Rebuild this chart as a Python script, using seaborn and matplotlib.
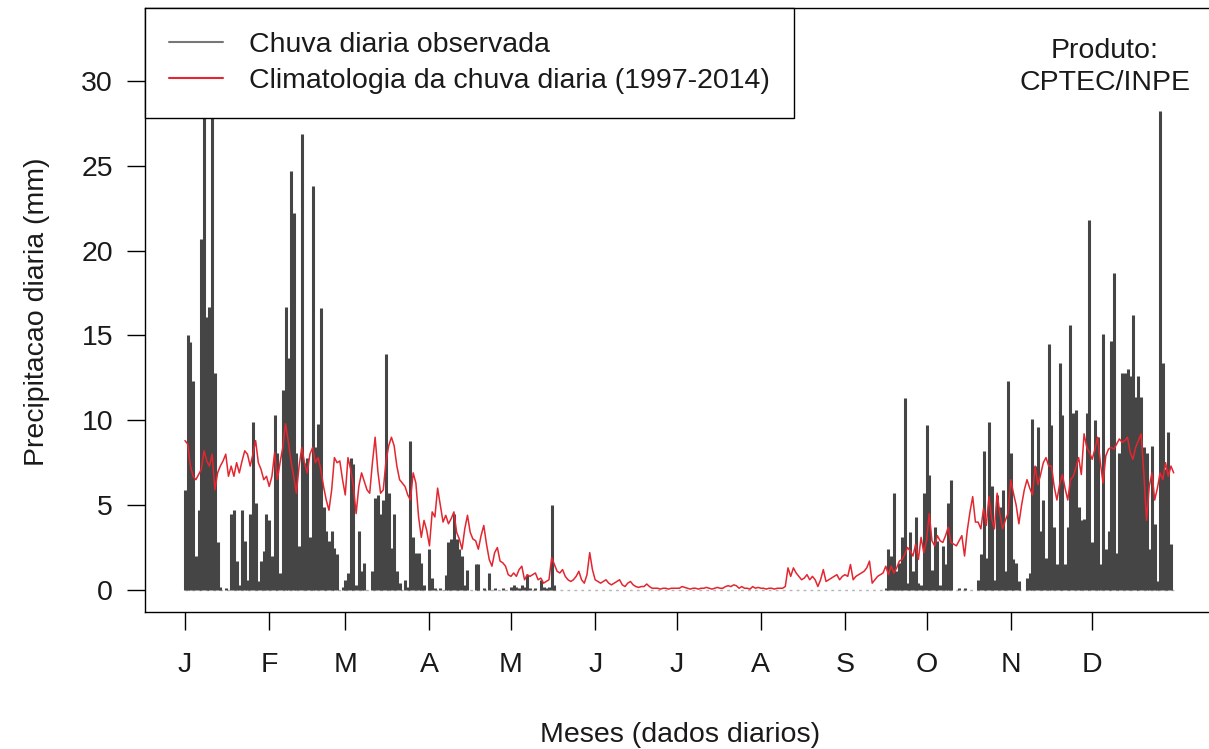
import numpy as np
import pandas as pd
import seaborn as sns
import matplotlib
matplotlib.use("Agg")
import matplotlib.pyplot as plt
from matplotlib.lines import Line2D

# month tick positions (day of year) and labels
month_days = [1, 32, 60, 91, 121, 152, 182, 213, 244, 274, 305, 335]
month_labels = ["J", "F", "M", "A", "M", "J", "J", "A", "S", "O", "N", "D"]

# observed daily rain (mm), one list per month
chuva_jan = [5.9, 15.0, 14.6, 12.3, 2.0, 4.7, 20.7, 34.0, 16.1, 16.7, 32.0, 12.8, 2.8, 0.2, 0.0, 0.1,
             0.0, 4.5, 4.7, 1.7, 0.3, 4.7, 2.9, 0.6, 4.5, 9.9, 5.1, 0.5, 1.7, 2.3, 4.5]
chuva_fev = [4.1, 2.0, 10.3, 8.1, 1.0, 11.8, 16.7, 13.7, 24.7, 22.2, 8.1, 2.6, 26.9, 7.5, 7.8, 3.1,
             23.8, 8.4, 9.8, 16.6, 4.9, 3.5, 2.9, 3.5, 2.5, 2.1, 0.0, 0.2]
chuva_mar = [0.6, 1.0, 7.8, 7.4, 0.3, 3.5, 1.1, 1.6, 0.0, 0.0, 1.1, 5.4, 5.6, 4.5, 5.3, 13.9,
             5.7, 2.5, 4.5, 1.1, 0.4, 0.0, 0.6, 0.2, 8.8, 3.1, 2.2, 2.2, 1.6, 0.3, 0.0]
chuva_abr = [2.4, 0.7, 0.1, 0.0, 0.1, 0.0, 0.9, 2.8, 3.0, 4.5, 3.0, 2.4, 2.0, 0.3, 1.2, 0.0,
             0.0, 1.5, 1.5, 0.0, 0.1, 0.0, 1.0, 0.0, 0.1, 0.0, 0.0, 0.1, 0.0, 0.0]
chuva_mai = [0.2, 0.3, 0.2, 0.1, 0.3, 0.2, 0.9, 0.1, 0.0, 0.1, 0.0, 0.6, 0.2, 0.1, 0.2, 5.0,
             0.3, 0, 0, 0, 0, 0, 0, 0, 0, 0, 0, 0, 0, 0, 0]
chuva_jun = [0.0] * 30
chuva_jul = [0.0] * 31
chuva_ago = [0.0] * 31
chuva_set = [0, 0, 0, 0, 0, 0, 0, 0, 0, 0, 0, 0, 0, 0, 0, 0.1, 2.4, 2.0, 5.7, 1.1, 1.6, 3.1,
             11.3, 0.4, 3.4, 1.1, 4.3, 0.4, 0.3, 5.7]
chuva_out = [9.7, 6.8, 1.2, 3.7, 2.9, 0.3, 2.6, 1.5, 5.1, 6.5, 0, 0, 0.1, 0, 0.1, 0, 0, 0, 0,
             0.6, 2.1, 8.2, 1.9, 9.9, 6.1, 0.6, 5.6, 4.9, 5.9, 1.1, 12.3]
chuva_nov = [8.1, 1.8, 1.6, 0.5, 0, 0, 0.7, 1.0, 10.1, 7.3, 9.6, 3.5, 5.3, 1.9, 14.5, 9.7, 3.7,
             1.5, 13.4, 10.3, 1.5, 3.7, 15.6, 10.4, 10.6, 4.9, 4.1, 4.2, 10.4, 21.8]
chuva_dez = [2.8, 10.0, 9.0, 1.5, 15.1, 2.4, 3.5, 14.7, 18.7, 2.2, 8.1, 12.8, 12.8, 13.0, 12.6,
             16.2, 11.4, 12.6, 11.4, 8.4, 8.1, 2.4, 8.5, 3.9, 0.5, 28.2, 13.4, 7.1, 9.3, 2.7, 0.0]

# daily rain climatology 1997-2014 (mm)
clim_jan = [8.8, 8.6, 7.3, 6.7, 6.5, 6.8, 7.1, 8.2, 7.6, 7.3, 8.0, 5.9, 6.9, 7.3, 7.6, 8.0,
            6.7, 7.3, 6.7, 7.5, 6.9, 7.6, 8.2, 8.0, 7.3, 8.0, 8.8, 7.5, 7.1, 6.5, 6.7]
clim_fev = [6.1, 6.7, 8.1, 6.5, 7.5, 8.4, 9.8, 8.8, 7.6, 6.7, 5.7, 7.3, 8.4, 7.5, 6.9, 8.0,
            8.4, 7.5, 7.8, 7.1, 6.1, 5.3, 4.7, 5.9, 7.8, 7.5, 7.6, 6.5]
clim_mar = [5.6, 7.8, 7.1, 6.1, 4.5, 6.1, 6.9, 6.4, 5.9, 5.7, 7.5, 9.0, 7.0, 5.7, 5.9, 7.6,
            8.5, 9.0, 8.5, 7.3, 6.5, 6.3, 6.1, 5.6, 5.3, 6.9, 6.3, 4.3, 3.1, 4.1, 3.5]
clim_abr = [2.6, 4.6, 4.3, 6.0, 5.0, 4.0, 4.4, 3.9, 4.2, 4.6, 3.4, 3.0, 2.4, 3.6, 4.4, 3.4,
            3.0, 2.9, 2.4, 3.2, 3.8, 2.7, 1.8, 1.4, 2.2, 2.5, 1.7, 1.6, 1.4, 0.9]
clim_mai = [0.8, 1.0, 0.8, 1.2, 1.4, 0.6, 0.9, 0.8, 0.9, 1.0, 0.6, 0.7, 0.4, 0.5, 0.6, 1.9,
            1.5, 1.1, 1.0, 1.2, 0.8, 0.6, 0.5, 0.6, 0.8, 1.1, 0.6, 0.4, 0.9, 2.2, 1.2]
clim_jun = [0.6, 0.5, 0.4, 0.5, 0.6, 0.4, 0.3, 0.4, 0.5, 0.6, 0.3, 0.2, 0.4, 0.5, 0.3, 0.2,
            0.15, 0.2, 0.2, 0.35, 0.2, 0.1, 0.1, 0.1, 0.05, 0.1, 0.1, 0.05, 0.1, 0.1]
clim_jul = [0.1, 0.1, 0.2, 0.15, 0.1, 0.05, 0.1, 0.1, 0.05, 0.1, 0.1, 0.15, 0.1, 0.05, 0.1,
            0.15, 0.1, 0.1, 0.2, 0.25, 0.2, 0.3, 0.25, 0.1, 0.2, 0.1, 0.1, 0.05, 0.2, 0.1, 0.15]
clim_ago = [0.1, 0.1, 0.05, 0.1, 0.1, 0.05, 0.1, 0.1, 0.1, 0.2, 1.3, 0.8, 1.3, 1.0, 0.8, 0.6,
            0.7, 0.9, 0.6, 0.8, 0.6, 0.2, 0.6, 1.2, 0.5, 0.6, 0.7, 0.8, 0.9, 0.6, 0.8]
clim_set = [0.9, 0.8, 1.5, 0.6, 0.8, 0.9, 1.0, 1.1, 1.3, 1.7, 0.4, 0.6, 0.8, 0.9, 1.0, 1.4,
            0.9, 1.4, 1.0, 1.3, 1.7, 1.8, 2.1, 2.5, 2.3, 2.0, 2.7, 1.8, 3.1, 2.2]
clim_out = [2.9, 4.5, 2.9, 2.6, 3.2, 2.9, 2.8, 3.2, 3.7, 2.8, 2.7, 2.6, 2.9, 3.2, 2.0, 3.5,
            4.6, 5.5, 4.0, 4.0, 3.6, 4.8, 3.8, 5.5, 4.2, 3.6, 5.7, 4.5, 3.6, 4.1, 4.5]
clim_nov = [6.5, 5.7, 5.0, 3.9, 5.0, 5.9, 6.5, 6.0, 5.6, 7.3, 6.2, 6.8, 7.5, 7.8, 7.3, 7.3,
            6.1, 5.3, 6.2, 6.8, 6.0, 5.3, 6.5, 6.7, 7.2, 7.8, 6.8, 9.2, 8.4, 8.1]
clim_dez = [7.7, 8.3, 9.0, 7.5, 6.3, 7.9, 8.3, 8.4, 8.3, 8.6, 8.9, 8.7, 8.8, 9.0, 8.1, 7.7,
            8.4, 8.8, 9.2, 6.9, 4.1, 6.1, 6.9, 5.3, 6.0, 6.9, 6.5, 7.5, 6.7, 7.3, 6.9]

chuva = (chuva_jan + chuva_fev + chuva_mar + chuva_abr + chuva_mai + chuva_jun
         + chuva_jul + chuva_ago + chuva_set + chuva_out + chuva_nov + chuva_dez)
clim = (clim_jan + clim_fev + clim_mar + clim_abr + clim_mai + clim_jun
        + clim_jul + clim_ago + clim_set + clim_out + clim_nov + clim_dez)

df = pd.DataFrame({"dia": np.arange(1, len(chuva) + 1), "chuva": chuva, "clim": clim})

sns.set_theme(style="white")
plt.rcParams["font.family"] = ["Liberation Sans", "DejaVu Sans"]
fs = 20.5

fig = plt.figure(figsize=(12.09, 7.49), dpi=100)
ax = fig.add_axes([145 / 1209, 137 / 749, 1064 / 1209, 604 / 749])

# faint zero line, daily bars, climatology
ax.plot(df["dia"], np.zeros(len(df)), color="#b5b5b5", lw=1, ls=(0, (2, 3)), zorder=1)
ax.vlines(df["dia"], 0, df["chuva"], color="#454545", lw=2.2, zorder=2)
sns.lineplot(data=df, x="dia", y="clim", color="#e3262f", lw=1.1, ax=ax, zorder=3)

ax.set_xlim(1 - 40 / 2.716, 378.0)
ax.set_ylim(-1.3, 34.3)
ax.set_xticks(month_days)
ax.set_xticklabels(month_labels)
ax.set_yticks([0, 5, 10, 15, 20, 25, 30])
ax.tick_params(axis="both", direction="out", length=13, width=1, color="black",
               labelsize=fs, labelcolor="#1a1a1a", bottom=True, left=True)
ax.tick_params(axis="x", pad=16)
ax.tick_params(axis="y", pad=10)
for s in ["left", "bottom", "top"]:
    ax.spines[s].set_color("black")
    ax.spines[s].set_linewidth(1.0)
ax.spines["right"].set_visible(False)

ax.set_xlabel("Meses (dados diarios)", fontsize=fs, color="#1a1a1a", va="center")
ax.xaxis.set_label_coords(535 / 1064, -123 / 604)
ax.set_ylabel("Precipitacao diaria (mm)", fontsize=fs, color="#1a1a1a", va="center")
ax.yaxis.set_label_coords(-108 / 1064, 0.497)

handles = [Line2D([], [], color="#777777", lw=1.5), Line2D([], [], color="#e3262f", lw=1.5)]
leg = ax.legend(handles, ["Chuva diaria observada", "Climatologia da chuva diaria (1997-2014)"],
                loc="upper left", bbox_to_anchor=(0, 1), borderaxespad=0, frameon=True,
                fancybox=False, edgecolor="black", framealpha=1, fontsize=fs,
                handlelength=1.9, handletextpad=0.9, labelspacing=0.35, borderpad=0.85)
leg.get_frame().set_linewidth(1.0)
leg.set_zorder(5)
for t in leg.get_texts():
    t.set_color("#1a1a1a")

ax.text(339.7, 30.8, "Produto:\nCPTEC/INPE", ha="center", va="center",
        fontsize=fs, color="#1a1a1a", linespacing=1.3)

fig.savefig("out.png", dpi=100)
